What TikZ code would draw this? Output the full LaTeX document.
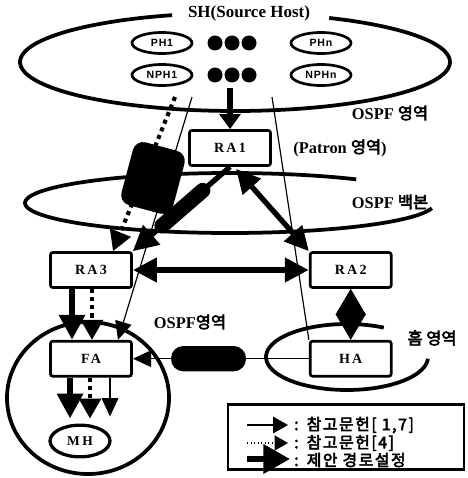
\documentclass[tikz,border=0pt]{standalone}
\usepackage{fontspec}
\setmainfont{Liberation Serif}
\setsansfont{Liberation Sans}
\newfontfamily\krfont{Noto Sans CJK KR}[AutoFakeBold=3.5]
\newcommand{\kr}[1]{{\krfont #1}}
\usetikzlibrary{positioning, arrows.meta, shapes.geometric, backgrounds, calc}

\begin{document}
\begin{tikzpicture}[
    x=0.03cm, y=-0.03cm,
    every node/.style={font=\bfseries},
    router/.style={
        draw, rounded corners=2pt, line width=2.3pt, fill=white,
        minimum width=2.43cm, minimum height=1.05cm, inner sep=0pt,
        font=\bfseries\fontsize{12}{14}\selectfont\addfontfeatures{LetterSpace=16}
    },
    host/.style={
        ellipse, draw, line width=2.3pt, fill=white,
        minimum width=1.8cm, minimum height=0.63cm, inner sep=0pt,
        font=\sffamily\bfseries\fontsize{9}{10}\selectfont\addfontfeatures{LetterSpace=8}
    },
    title/.style={font=\bfseries\fontsize{14.5}{16}\selectfont, inner sep=1pt},
    area/.style={font=\bfseries\fontsize{14}{16}\selectfont, inner sep=1pt},
    region/.style={line width=3.2pt},
    thinline/.style={line width=1pt},
    thinarrow/.style={-{Triangle[length=0.55cm, width=0.5cm]}, line width=1pt},
    dotarrow/.style={-{Triangle[length=0.6cm, width=0.65cm]}, line width=3.5pt,
        dash pattern=on 3.5pt off 3.5pt},
    bigarrow/.style={-{Triangle[length=0.75cm, width=0.75cm]}, line width=5.5pt},
    bigboth/.style={{Triangle[length=0.72cm, width=0.7cm]}-{Triangle[length=0.72cm, width=0.7cm]},
        line width=5.5pt},
    diamondlink/.style={{Triangle[length=0.77cm, width=0.9cm]}-{Triangle[length=0.77cm, width=0.9cm]},
        line width=1pt},
    tunnelbar/.style={line width=13pt, line cap=round},
    keytext/.style={anchor=west, inner sep=0pt,
        font=\krfont\bfseries\fontsize{13.5}{15}\selectfont\addfontfeatures{LetterSpace=10}}
]
\useasboundingbox (0,0) rectangle (467,478);

% ── SOURCE HOST ────────────────────────────────────────────────
\node[title] (sh) at (249,13) {SH(Source Host)};
\node[host] (ph1)  at (162,43) {PH1};
\node[host] (nph1) at (162,75) {NPH1};
\node[host] (phn)  at (321,43) {PHn};
\node[host] (nphn) at (321,75) {NPHn};
\foreach \dx in {215,232,249}{
    \fill (\dx,43) circle[radius=7.5];
    \fill (\dx,75) circle[radius=7.5];
}

% ── ROUTERS / AGENTS ───────────────────────────────────────────
\node[router] (ra1) at (230,148) {RA1};
\node[router] (ra3) at (91,270) {RA3};
\node[router, right=5.28cm of ra3] (ra2) {RA2};
\node[router, below=1.53cm of ra3] (fa) {FA};
\node[router, below=1.53cm of ra2] (ha) {HA};
\node[host, minimum width=1.8cm, minimum height=0.95cm, line width=2.8pt,
      font=\bfseries\fontsize{11.5}{13}\selectfont\addfontfeatures{LetterSpace=20}]
    (mh) at (80,441) {MH};

% ── AREA LABELS ────────────────────────────────────────────────
\node[area] (ospfa)   at (390,113) {OSPF \kr{영역}};
\node[area] (patron)  at (340,148) {(Patron \kr{영역})};
\node[area] (ospfbb)  at (390,202) {OSPF \kr{백본}};
\node[area] (ospfb)   at (190,322) {OSPF\kr{영역}};
\node[area] (home)    at (432,338) {\kr{홈 영역}};

% ── REGIONS ────────────────────────────────────────────────────
\begin{scope}[on background layer]
    \draw[region] plot[domain=107:424, samples=90, smooth]
        ({235+215*cos(\x)}, {62-49*sin(\x)});
    \draw[region] plot[domain=52:350, samples=90, smooth]
        ({230+205*cos(\x)}, {203-30*sin(\x)});
    \draw[region] plot[domain=63:357, samples=60, smooth]
        ({347+81*cos(\x)}, {357-33*sin(\x)});
    \draw[region] (88,398) ellipse[x radius=81, y radius=76];
\end{scope}

% ── CONNECTORS ─────────────────────────────────────────────────
\coordinate (shmid)   at (230,88);
\coordinate (shdot)   at (175,97);
\coordinate (shthin)  at (192,97);
\coordinate (shright) at (272,97);

\draw[bigarrow, -{Triangle[length=0.45cm, width=0.62cm]}, line width=4.5pt]
    (shmid) -- (ra1.north);
\draw[dotarrow] (shdot) -- ($(ra3.north)+(22,0)$);
\draw[thinarrow] (shthin) -- ($(fa.north)+(27,0)$);
\draw[thinline] (shright) -- (ha.north west);

% RA1 -> RA3 (tunnel), RA1 <-> RA2
\draw[bigarrow, line width=4.5pt] (ra1.south) -- (ra3.north east);
\draw[bigboth, line width=4.5pt] ($(ra1.south)+(6,2)$) -- (ra2.north west);
\draw[bigboth] (ra3.east) -- (ra2.west);
\draw[diamondlink] (ra2.south) -- (ha.north);

% RA3 -> FA
\draw[bigarrow] ($(ra3.south)+(-19,0)$) -- ($(fa.north)+(-19,0)$);
\draw[dotarrow] ($(ra3.south)+(1,0)$) -- ($(fa.north)+(1,0)$);

% FA -> MH
\draw[bigarrow] ($(fa.south)+(-21,0)$) -- ($(mh.north)+(-10,-5)$);
\draw[dotarrow] ($(fa.south)+(-1,0)$) -- ($(mh.north)+(10,-5)$);
\draw[thinarrow] ($(fa.south)+(19,0)$) -- ($(mh.north)+(30,-7)$);

% HA -> FA
\draw[thinarrow] (ha.west) -- (fa.east);

% ── TUNNELS ────────────────────────────────────────────────────
\node[fill=black, rounded corners=9pt, minimum width=1.6cm,
      minimum height=1.95cm, rotate=-15] (tun1) at (153,178) {};
\draw[tunnelbar] ($(ra1.south)!0.28!(ra3.north east)$)
    -- ($(ra1.south)!0.70!(ra3.north east)$);
\node[fill=black, rounded corners=0.37cm, minimum width=2.25cm,
      minimum height=0.76cm] (tun2) at ($(fa.east)!0.43!(ha.west)$) {};

% ── LEGEND ─────────────────────────────────────────────────────
\node[draw, line width=2.2pt, minimum width=7.08cm, minimum height=1.95cm]
    (legend) at (346,437) {};
\coordinate (k1s) at (247,425); \coordinate (k1e) at (288,425);
\coordinate (k2s) at (247,443); \coordinate (k2e) at (288,443);
\coordinate (k3s) at (247,459); \coordinate (k3e) at (290,459);
\draw[thinarrow, -{Triangle[length=0.45cm, width=0.5cm]}] (k1s) -- (k1e);
\draw[-{Triangle[length=0.4cm, width=0.45cm]}, line width=1pt, dotted] (k2s) -- (k2e);
\draw[-{Triangle[length=0.8cm, width=0.85cm]}, line width=5pt] (k3s) -- (k3e);
\node[keytext] (key1) at (294,425) {:\hspace{7pt}참고문헌[ 1,7]};
\node[keytext] (key2) at (294,443) {:\hspace{7pt}참고문헌[4]};
\node[keytext] (key3) at (294,460) {:\hspace{7pt}제안 경로설정};

\end{tikzpicture}
\end{document}
